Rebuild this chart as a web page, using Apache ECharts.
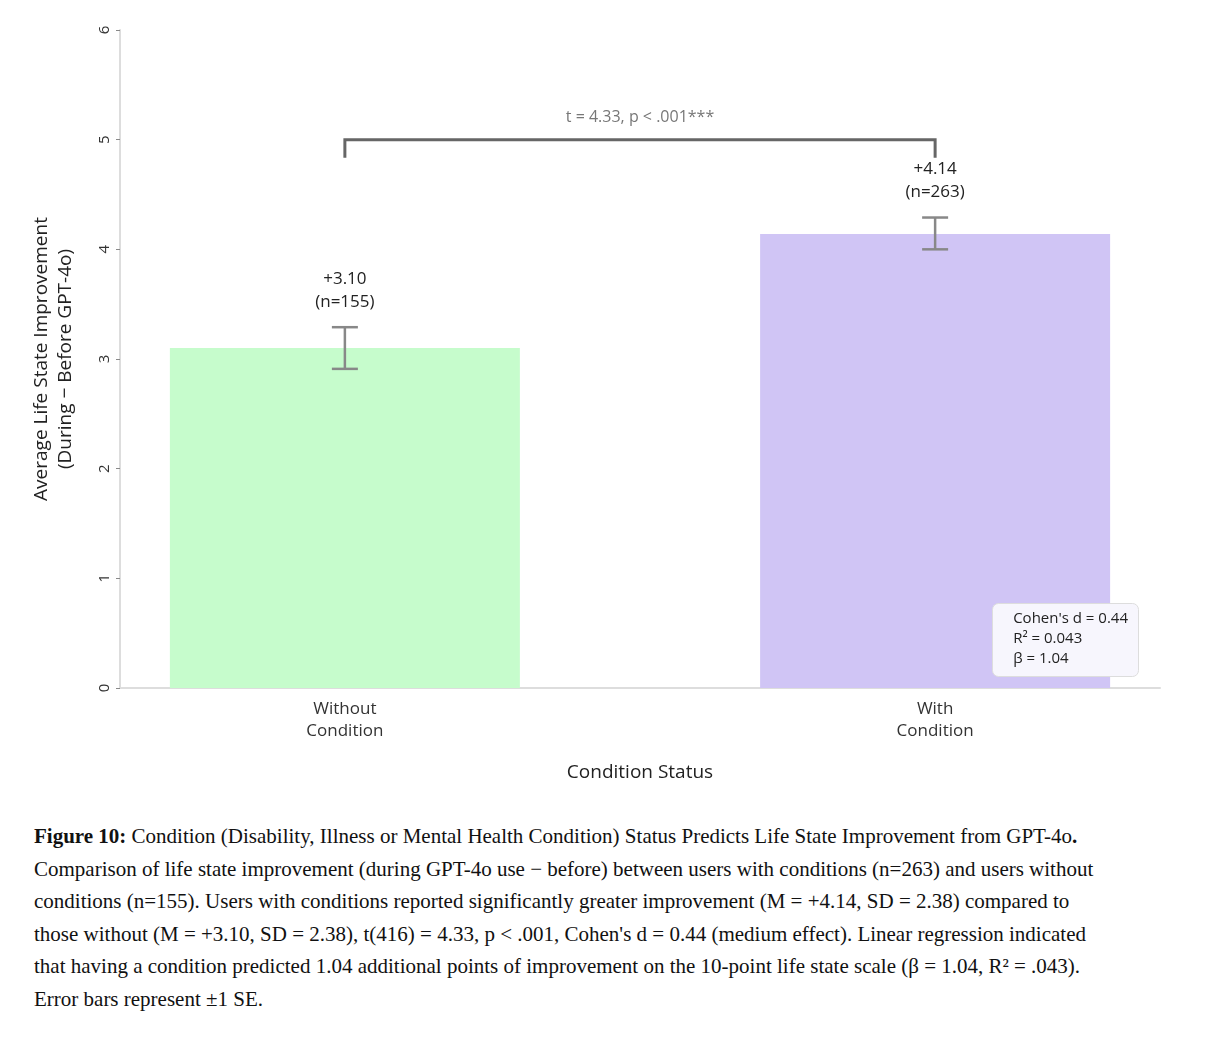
<!DOCTYPE html>
<html>
<head>
<meta charset="utf-8">
<script src="https://cdn.jsdelivr.net/npm/echarts@6/dist/echarts.min.js"></script>
<style>
body { margin: 0; background: #fff; }
#chart { width: 1206px; height: 800px; }
#caption { margin: 20px 0 0 34px; width: 1075px; font-family: "Liberation Serif", serif; font-size: 21px; line-height: 32.5px; color: #111; }
</style>
</head>
<body>
<div id="chart"></div>
<div id="caption"><b>Figure 10:</b> Condition (Disability, Illness or Mental Health Condition) Status Predicts Life State Improvement from GPT-4o<b>.</b> Comparison of life state improvement (during GPT-4o use − before) between users with conditions (n=263) and users without conditions (n=155). Users with conditions reported significantly greater improvement (M = +4.14, SD = 2.38) compared to those without (M = +3.10, SD = 2.38), t(416) = 4.33, p &lt; .001, Cohen's d = 0.44 (medium effect). Linear regression indicated that having a condition predicted 1.04 additional points of improvement on the 10-point life state scale (β = 1.04, R² = .043). Error bars represent ±1 SE.</div>
<script>
var categories = ['Without\nCondition', 'With\nCondition'];
var means = [3.10, 4.14];
var errLow = [2.91, 4.00];
var errHigh = [3.29, 4.29];
var counts = [155, 263];
var colors = ['#c6fccc', '#d0c5f5'];
var yTicks = [0, 1, 2, 3, 4, 5, 6];
var font = '"Open Sans", "Noto Sans", sans-serif';

var chart = echarts.init(document.getElementById('chart'));
chart.setOption({
  animation: false,
  grid: { left: 120, right: 46, top: 30, bottom: 112 },
  xAxis: {
    type: 'value', min: -0.381, max: 1.381,
    name: 'Condition Status', nameLocation: 'middle', nameGap: 75,
    nameTextStyle: { fontFamily: font, fontSize: 19, color: '#222' },
    axisLine: { onZero: false, lineStyle: { color: '#ddd', width: 2 } },
    axisTick: { show: false }, splitLine: { show: false },
    axisLabel: { customValues: [0, 1], formatter: function (v) { return categories[Math.round(v)]; },
      fontFamily: font, fontSize: 17, color: '#333', lineHeight: 22, margin: 10 }
  },
  yAxis: {
    type: 'value', min: 0, max: 6, interval: 1,
    name: 'Average Life State Improvement\n(During − Before GPT-4o)', nameLocation: 'middle', nameGap: 42,
    nameTextStyle: { fontFamily: font, fontSize: 19, color: '#222', lineHeight: 24 },
    axisLine: { show: true, onZero: false, lineStyle: { color: '#ddd', width: 2 } },
    axisTick: { show: true, length: 4, lineStyle: { color: '#888' } },
    splitLine: { show: false },
    axisLabel: { fontFamily: font, fontSize: 15, color: '#333', margin: 8, rotate: 90,
      formatter: function (v) { return yTicks.indexOf(v) >= 0 ? String(v) : ''; } }
  },
  series: [
    {
      type: 'bar', barWidth: 350, z: 1,
      data: means.map(function (m, i) { return { value: [i, m], itemStyle: { color: colors[i] } }; })
    },
    {
      type: 'custom', z: 5,
      data: means.map(function (m, i) { return [i, errLow[i], errHigh[i], m, counts[i]]; }),
      renderItem: function (params, api) {
        var lo = api.coord([api.value(0), api.value(1)]);
        var hi = api.coord([api.value(0), api.value(2)]);
        var st = { stroke: '#888', lineWidth: 2.5 };
        return { type: 'group', children: [
          { type: 'line', shape: { x1: lo[0], y1: lo[1], x2: hi[0], y2: hi[1] }, style: st },
          { type: 'line', shape: { x1: lo[0] - 13, y1: lo[1], x2: lo[0] + 13, y2: lo[1] }, style: st },
          { type: 'line', shape: { x1: hi[0] - 13, y1: hi[1], x2: hi[0] + 13, y2: hi[1] }, style: st },
          { type: 'text', x: hi[0], y: hi[1] - 14, style: {
            text: '+' + api.value(3).toFixed(2) + '\n(n=' + api.value(4) + ')',
            align: 'center', verticalAlign: 'bottom', fontFamily: font, fontSize: 17, lineHeight: 23, fill: '#222' } }
        ] };
      }
    },
    {
      type: 'custom', z: 5,
      data: [[0, 1, 5]],
      renderItem: function (params, api) {
        var a = api.coord([api.value(0), api.value(2)]);
        var b = api.coord([api.value(1), api.value(2)]);
        var drop = 18;
        return { type: 'group', children: [
          { type: 'polyline', shape: { points: [[a[0], a[1] + drop], [a[0], a[1]], [b[0], b[1]], [b[0], b[1] + drop]] },
            style: { stroke: '#666', lineWidth: 3, fill: null } },
          { type: 'text', x: (a[0] + b[0]) / 2, y: a[1] - 14, style: {
            text: 't = 4.33, p < .001***', align: 'center', verticalAlign: 'bottom',
            fontFamily: font, fontSize: 16, fill: '#777' } }
        ] };
      }
    }
  ],
  graphic: [
    { type: 'rect', left: 992, top: 603, z: 100, shape: { width: 146, height: 73, r: 6 },
      style: { fill: '#f7f6fd', stroke: '#ddd', lineWidth: 1 } },
    { type: 'text', right: 78, top: 609, z: 101, style: { text: "Cohen's d = 0.44\nR² = 0.043\nβ = 1.04", align: 'right',
      fontFamily: font, fontSize: 15, lineHeight: 20, fill: '#222' } }
  ]
});
</script>
</body>
</html>
